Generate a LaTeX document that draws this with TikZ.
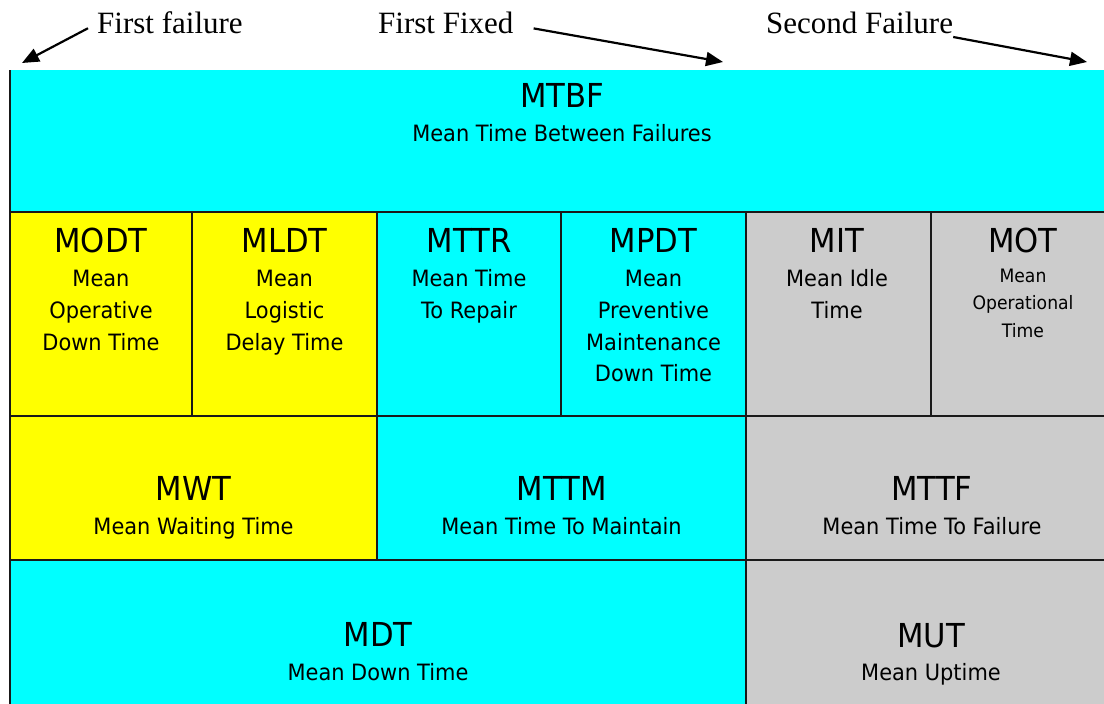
\documentclass[tikz,border=0pt]{standalone}
\usepackage{fontspec}
\setsansfont{DejaVu Sans}[FakeStretch=0.93]
\newfontfamily\notefont{Liberation Serif}
\usetikzlibrary{arrows.meta}
\definecolor{mcyan}{RGB}{0,255,255}
\definecolor{myellow}{RGB}{255,255,0}
\definecolor{mgrey}{RGB}{204,204,204}
\begin{document}
\begin{tikzpicture}[x=1pt,y=-1pt]
        \tikzset{
          abbr/.style={font=\sffamily\fontsize{33}{36}\selectfont,anchor=base,inner sep=0pt},
          longname/.style={font=\sffamily\fontsize{22.5}{31.7}\selectfont,align=center,anchor=base,inner sep=0pt},
          longlines/.style={longname,anchor=north},
          smalllines/.style={font=\sffamily\fontsize{18.5}{27.5}\selectfont,align=center,anchor=north,inner sep=0pt},
          note/.style={font=\notefont\fontsize{31}{34}\selectfont,inner sep=0pt},
          grid line/.style={black!90,line width=1.2pt},
          pointer/.style={line width=2.2pt,-{Triangle[length=17pt,width=14pt]}}
        }
        \useasboundingbox (0,0) rectangle (1104,704);

        %FILLS
        \fill[mcyan] (10,70) rectangle (1104,212);
        \fill[myellow] (10,212) rectangle (377,560);
        \fill[mcyan] (377,212) rectangle (746,560);
        \fill[mgrey] (746,212) rectangle (1104,704);
        \fill[mcyan] (10,560) rectangle (746,704);

        %GRID
        \draw[grid line] (10,70) -- (10,704);
        \draw[grid line] (10,212) -- (1104,212) (10,416) -- (1104,416) (10,560) -- (1104,560);
        \foreach \x in {192,561,931} \draw[grid line] (\x,212) -- (\x,416);
        \draw[grid line] (377,212) -- (377,560);
        \draw[grid line] (746,212) -- (746,704);

        %TOP LABELS
        \node[note,anchor=base west] (fail1) at (97,33) {First failure};
        \node[note,anchor=base west] (fixed1) at (378,33) {First Fixed};
        \node[note,anchor=base west] (fail2) at (766,33) {Second Failure};
        \coordinate (fail1tip) at (22,63);
        \coordinate (fixed1tip) at (723,62);
        \coordinate (fail2tip) at (1087,62);
        \draw[pointer] ([xshift=-9pt,yshift=-6pt]fail1.west) -- (fail1tip);
        \draw[pointer] ([xshift=20pt,yshift=-6pt]fixed1.east) -- (fixed1tip);
        \draw[pointer] ([yshift=-4pt]fail2.base east) -- (fail2tip);

        %ROW 1
        \node[abbr] (mtbf) at (562,107) {MTBF};
        \node[longname] (mtbfname) at ([yshift=-34pt]mtbf.base) {Mean Time Between Failures};

        %ROW 2
        \node[abbr] (modt) at (101,252) {MODT};
        \node[longlines] (modtname) at ([yshift=-18pt]modt.base) {Mean\\Operative\\Down Time};
        \node[abbr] (mldt) at (284.5,252) {MLDT};
        \node[longlines] (mldtname) at ([yshift=-18pt]mldt.base) {Mean\\Logistic\\Delay Time};
        \node[abbr] (mttr) at (469,252) {MTTR};
        \node[longlines] (mttrname) at ([yshift=-17.5pt]mttr.base) {Mean Time\\To Repair};
        \node[abbr] (mpdt) at (653.5,252) {MPDT};
        \node[longlines] (mpdtname) at ([yshift=-18pt]mpdt.base) {Mean\\Preventive\\Maintenance\\Down Time};
        \node[abbr] (mit) at (837,252) {MIT};
        \node[longlines] (mitname) at ([yshift=-17.5pt]mit.base) {Mean Idle\\Time};
        \node[abbr] (mot) at (1023,252) {MOT};
        \node[smalllines] (motname) at ([yshift=-16.5pt]mot.base) {Mean\\Operational\\Time};

        %ROW 3
        \node[abbr] (mwt) at (193.5,500) {MWT};
        \node[longname] (mwtname) at ([yshift=-34pt]mwt.base) {Mean Waiting Time};
        \node[abbr] (mttm) at (561.5,500) {MTTM};
        \node[longname] (mttmname) at ([yshift=-34pt]mttm.base) {Mean Time To Maintain};
        \node[abbr] (mttf) at (932,500) {MTTF};
        \node[longname] (mttfname) at ([yshift=-34pt]mttf.base) {Mean Time To Failure};

        %ROW 4
        \node[abbr] (mdt) at (378,646) {MDT};
        \node[longname] (mdtname) at ([yshift=-34pt]mdt.base) {Mean Down Time};
        \node[abbr] (mut) at (931,647) {MUT};
        \node[longname] (mutname) at ([yshift=-33pt]mut.base) {Mean Uptime};
\end{tikzpicture}
\end{document}
